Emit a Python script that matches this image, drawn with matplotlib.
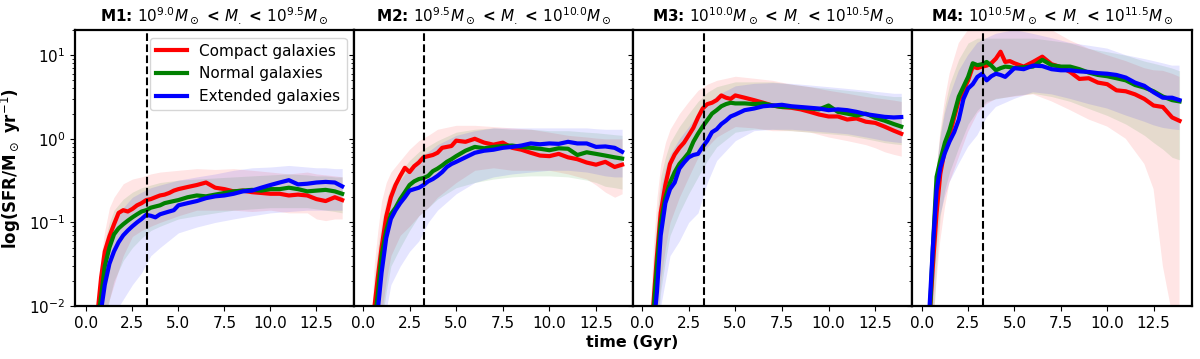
import matplotlib
matplotlib.use('Agg')
import matplotlib.pyplot as plt

# time grids (Gyr)
T = [0.4, 0.6, 0.8, 1.0, 1.25, 1.5, 1.75, 2.0, 2.25, 2.5, 2.75, 3.0, 3.25, 3.5, 3.75,
     4.0, 4.25, 4.5, 4.75, 5.0, 5.5, 6.0, 6.5, 7.0, 7.5, 8.0, 8.5, 9.0, 9.5, 10.0,
     10.5, 11.0, 11.5, 12.0, 12.5, 13.0, 13.5, 13.9]
TB = [0.4, 0.6, 0.8, 1.0, 1.25, 1.5, 2.0, 2.5, 3.0, 3.5, 4.0, 5.0, 6.0, 7.0, 8.0,
      9.0, 10.0, 11.0, 12.0, 12.5, 13.0, 13.5, 13.9]

titles = [r"M1: $10^{9.0}M_\odot$ < $M_{.}$ < $10^{9.5}M_\odot$",
          r"M2: $10^{9.5}M_\odot$ < $M_{.}$ < $10^{10.0}M_\odot$",
          r"M3: $10^{10.0}M_\odot$ < $M_{.}$ < $10^{10.5}M_\odot$",
          r"M4: $10^{10.5}M_\odot$ < $M_{.}$ < $10^{11.5}M_\odot$"]
labels = ["Compact galaxies", "Normal galaxies", "Extended galaxies"]
colors = ["red", "green", "blue"]
t_split = 3.3

# ---- M1 ----
m1_compact = [0.003, 0.008, 0.022, 0.045, 0.068, 0.095, 0.13, 0.14, 0.135, 0.145, 0.16, 0.17, 0.185, 0.19, 0.2,
              0.21, 0.215, 0.225, 0.24, 0.25, 0.265, 0.28, 0.3, 0.26, 0.25, 0.235, 0.24, 0.23, 0.225, 0.22,
              0.22, 0.21, 0.215, 0.21, 0.19, 0.18, 0.2, 0.185]
m1_normal = [0.002, 0.006, 0.013, 0.03, 0.05, 0.072, 0.085, 0.095, 0.105, 0.115, 0.125, 0.135, 0.14, 0.15, 0.155,
             0.16, 0.17, 0.175, 0.18, 0.185, 0.2, 0.21, 0.205, 0.215, 0.225, 0.235, 0.24, 0.245, 0.24, 0.25,
             0.25, 0.26, 0.25, 0.235, 0.24, 0.245, 0.235, 0.22]
m1_extended = [0.002, 0.005, 0.009, 0.018, 0.032, 0.045, 0.058, 0.07, 0.08, 0.09, 0.1, 0.11, 0.123, 0.12, 0.115,
               0.125, 0.13, 0.135, 0.14, 0.16, 0.17, 0.18, 0.195, 0.205, 0.21, 0.22, 0.235, 0.24, 0.26, 0.28,
               0.3, 0.32, 0.285, 0.29, 0.3, 0.305, 0.3, 0.27]
m1_compact_lo = [0.001, 0.002, 0.004, 0.008, 0.012, 0.018, 0.04, 0.068, 0.08, 0.09, 0.1, 0.12, 0.14, 0.14, 0.14,
                 0.135, 0.14, 0.13, 0.13, 0.11, 0.105, 0.11, 0.11]
m1_compact_hi = [0.003, 0.012, 0.04, 0.08, 0.15, 0.2, 0.29, 0.33, 0.35, 0.38, 0.4, 0.42, 0.44, 0.43, 0.44,
                 0.42, 0.4, 0.38, 0.4, 0.38, 0.37, 0.36, 0.35]
m1_normal_lo = [0.001, 0.002, 0.003, 0.006, 0.012, 0.02, 0.035, 0.05, 0.065, 0.08, 0.09, 0.11, 0.12, 0.13, 0.14,
                0.145, 0.15, 0.15, 0.15, 0.145, 0.14, 0.135, 0.13]
m1_normal_hi = [0.002, 0.01, 0.03, 0.06, 0.1, 0.14, 0.19, 0.23, 0.26, 0.28, 0.3, 0.32, 0.33, 0.34, 0.35,
                0.36, 0.37, 0.38, 0.37, 0.36, 0.36, 0.35, 0.35]
m1_extended_lo = [0.0005, 0.001, 0.002, 0.003, 0.005, 0.008, 0.012, 0.018, 0.025, 0.04, 0.05, 0.075, 0.088, 0.1, 0.11,
                  0.12, 0.13, 0.135, 0.14, 0.14, 0.14, 0.14, 0.14]
m1_extended_hi = [0.002, 0.008, 0.02, 0.04, 0.07, 0.1, 0.15, 0.2, 0.23, 0.26, 0.28, 0.32, 0.35, 0.38, 0.42,
                  0.45, 0.46, 0.48, 0.46, 0.45, 0.45, 0.44, 0.44]

# ---- M2 ----
m2_compact = [0.003, 0.009, 0.022, 0.05, 0.117, 0.2, 0.28, 0.36, 0.45, 0.4, 0.47, 0.52, 0.6, 0.62, 0.64,
              0.68, 0.78, 0.8, 0.82, 0.95, 0.92, 1.0, 0.9, 0.85, 0.9, 0.78, 0.74, 0.68, 0.63, 0.62,
              0.66, 0.6, 0.57, 0.52, 0.49, 0.53, 0.46, 0.49]
m2_normal = [0.002, 0.006, 0.014, 0.04, 0.08, 0.125, 0.15, 0.19, 0.23, 0.28, 0.31, 0.33, 0.34, 0.36, 0.41,
             0.44, 0.48, 0.53, 0.57, 0.62, 0.72, 0.8, 0.77, 0.8, 0.82, 0.83, 0.8, 0.78, 0.76, 0.73,
             0.77, 0.76, 0.64, 0.69, 0.66, 0.63, 0.6, 0.58]
m2_extended = [0.001, 0.004, 0.009, 0.025, 0.065, 0.11, 0.14, 0.17, 0.2, 0.24, 0.25, 0.26, 0.28, 0.31, 0.33,
               0.36, 0.4, 0.46, 0.5, 0.53, 0.6, 0.68, 0.72, 0.74, 0.78, 0.8, 0.83, 0.88, 0.86, 0.88,
               0.87, 0.92, 0.88, 0.88, 0.8, 0.81, 0.78, 0.7]
m2_compact_lo = [0.001, 0.002, 0.004, 0.008, 0.02, 0.04, 0.07, 0.09, 0.12, 0.15, 0.2, 0.3, 0.42, 0.45, 0.42,
                 0.42, 0.42, 0.38, 0.33, 0.28, 0.23, 0.2, 0.22]
m2_compact_hi = [0.004, 0.03, 0.08, 0.18, 0.3, 0.4, 0.55, 0.75, 0.95, 1.1, 1.3, 1.45, 1.45, 1.4, 1.35,
                 1.3, 1.2, 1.1, 1.05, 1.02, 1.0, 1.0, 1.0]
m2_normal_lo = [0.0005, 0.001, 0.003, 0.006, 0.015, 0.03, 0.05, 0.08, 0.12, 0.15, 0.19, 0.26, 0.3, 0.33, 0.35,
                0.36, 0.36, 0.35, 0.32, 0.3, 0.27, 0.26, 0.25]
m2_normal_hi = [0.003, 0.02, 0.05, 0.1, 0.18, 0.27, 0.4, 0.55, 0.7, 0.82, 0.95, 1.2, 1.3, 1.35, 1.3,
                1.3, 1.25, 1.25, 1.2, 1.18, 1.15, 1.12, 1.1]
m2_extended_lo = [0.0005, 0.001, 0.002, 0.004, 0.009, 0.018, 0.03, 0.045, 0.06, 0.1, 0.14, 0.22, 0.3, 0.35, 0.38,
                  0.4, 0.42, 0.42, 0.4, 0.38, 0.36, 0.35, 0.35]
m2_extended_hi = [0.002, 0.01, 0.03, 0.06, 0.12, 0.2, 0.32, 0.45, 0.6, 0.7, 0.85, 1.1, 1.25, 1.35, 1.35,
                  1.35, 1.35, 1.35, 1.35, 1.32, 1.3, 1.3, 1.3]

# ---- M3 ----
m3_compact = [0.002, 0.01, 0.04, 0.13, 0.28, 0.5, 0.65, 0.78, 0.9, 1.1, 1.35, 1.8, 2.3, 2.6, 2.7,
              2.9, 3.3, 3.1, 3.0, 3.3, 3.1, 2.9, 2.7, 2.5, 2.4, 2.35, 2.25, 2.1, 1.95, 1.85,
              1.85, 1.7, 1.75, 1.6, 1.55, 1.4, 1.25, 1.15]
m3_normal = [0.002, 0.008, 0.03, 0.098, 0.2, 0.3, 0.4, 0.5, 0.58, 0.68, 0.92, 1.15, 1.4, 1.67, 2.0,
             2.2, 2.45, 2.6, 2.7, 2.65, 2.65, 2.6, 2.65, 2.5, 2.4, 2.4, 2.35, 2.3, 2.25, 2.5,
             2.1, 2.0, 1.9, 2.0, 1.78, 1.65, 1.5, 1.4]
m3_extended = [0.001, 0.005, 0.015, 0.07, 0.17, 0.25, 0.3, 0.44, 0.52, 0.6, 0.64, 0.66, 0.8, 0.95, 1.2,
               1.3, 1.5, 1.65, 1.85, 1.95, 2.2, 2.3, 2.45, 2.5, 2.55, 2.45, 2.4, 2.35, 2.3, 2.2,
               2.25, 2.2, 2.1, 1.97, 1.9, 1.83, 1.8, 1.82]
m3_compact_lo = [0.001, 0.002, 0.006, 0.02, 0.05, 0.1, 0.2, 0.35, 0.6, 0.8, 1.05, 1.4, 1.35, 1.25, 1.25,
                 1.2, 1.05, 0.95, 0.85, 0.78, 0.7, 0.65, 0.62]
m3_compact_hi = [0.006, 0.05, 0.2, 0.5, 0.9, 1.3, 2.0, 2.8, 3.8, 4.5, 5.0, 5.6, 5.3, 5.0, 4.5,
                 4.2, 3.8, 3.5, 3.2, 3.1, 3.0, 2.9, 2.8]
m3_normal_lo = [0.0005, 0.001, 0.004, 0.015, 0.035, 0.07, 0.13, 0.22, 0.35, 0.55, 0.8, 1.2, 1.3, 1.3, 1.25,
                1.2, 1.15, 1.1, 1.0, 0.95, 0.9, 0.87, 0.85]
m3_normal_hi = [0.004, 0.03, 0.12, 0.35, 0.6, 0.9, 1.4, 2.0, 2.8, 3.6, 4.2, 4.8, 4.8, 4.8, 4.5,
                4.2, 4.0, 3.8, 3.6, 3.4, 3.3, 3.2, 3.2]
m3_extended_lo = [0.0005, 0.001, 0.003, 0.01, 0.02, 0.04, 0.06, 0.1, 0.13, 0.3, 0.55, 0.95, 1.25, 1.3, 1.3,
                  1.25, 1.2, 1.15, 1.05, 1.0, 0.95, 0.92, 0.9]
m3_extended_hi = [0.003, 0.02, 0.08, 0.25, 0.45, 0.65, 1.0, 1.4, 2.0, 2.6, 3.3, 4.3, 4.6, 4.7, 4.6,
                  4.4, 4.2, 4.0, 3.8, 3.7, 3.6, 3.5, 3.5]

# ---- M4 ----
m4_compact = [0.006, 0.03, 0.13, 0.38, 0.75, 1.1, 1.8, 2.9, 3.8, 5.0, 7.3, 7.0, 7.3, 7.5, 8.0,
              9.1, 11.0, 8.3, 8.5, 8.0, 7.3, 8.3, 9.6, 7.8, 7.2, 6.3, 5.2, 5.3, 4.7, 4.5,
              3.8, 3.7, 3.4, 3.0, 2.5, 2.4, 1.8, 1.64]
m4_normal = [0.005, 0.05, 0.35, 0.55, 0.9, 1.27, 2.0, 3.2, 4.2, 5.5, 8.0, 7.6, 7.8, 8.3, 7.5,
             6.6, 7.0, 7.3, 7.2, 7.0, 7.2, 7.3, 8.8, 7.6, 7.3, 7.3, 6.8, 6.2, 5.8, 5.6,
             5.3, 5.0, 4.4, 4.1, 3.7, 3.2, 2.9, 2.8]
m4_extended = [0.008, 0.05, 0.24, 0.45, 0.68, 0.93, 1.2, 1.7, 3.0, 4.0, 4.5, 5.5, 6.0, 5.0, 5.6,
               6.0, 5.8, 5.5, 6.2, 7.0, 6.8, 7.5, 7.4, 6.8, 6.6, 6.6, 6.4, 6.3, 6.1, 6.0,
               5.8, 5.4, 4.7, 4.3, 3.6, 3.1, 3.1, 2.9]
m4_compact_lo = [0.001, 0.005, 0.02, 0.06, 0.15, 0.3, 0.6, 1.2, 2.0, 2.6, 3.0, 3.2, 3.4, 2.8, 2.2,
                 1.7, 1.4, 1.0, 0.5, 0.25, 0.03, 0.008, 0.01]
m4_compact_hi = [0.01, 0.08, 0.4, 1.2, 3.0, 6.0, 14.0, 20.0, 22.0, 22.0, 22.0, 22.0, 22.0, 20.0, 15.0,
                 12.0, 10.0, 8.5, 7.0, 6.6, 6.5, 6.0, 5.5]
m4_normal_lo = [0.001, 0.005, 0.03, 0.12, 0.25, 0.4, 0.8, 1.5, 2.2, 2.8, 3.0, 3.3, 3.5, 3.2, 2.8,
                2.3, 1.9, 1.5, 1.1, 0.9, 0.75, 0.6, 0.56]
m4_normal_hi = [0.01, 0.1, 0.5, 1.2, 2.5, 4.5, 9.0, 14.0, 16.0, 16.0, 16.0, 16.0, 16.0, 15.0, 14.0,
                12.0, 11.0, 10.0, 8.5, 8.0, 7.5, 7.0, 6.5]
m4_extended_lo = [0.001, 0.008, 0.05, 0.12, 0.2, 0.3, 0.5, 0.8, 1.1, 1.8, 2.4, 3.0, 3.6, 3.4, 3.0,
                  2.6, 2.3, 1.9, 1.6, 1.45, 1.35, 1.3, 1.27]
m4_extended_hi = [0.01, 0.08, 0.4, 1.0, 2.0, 3.2, 6.5, 10.0, 14.0, 16.0, 18.0, 20.0, 18.0, 16.0, 14.0,
                  13.0, 12.0, 10.0, 9.0, 8.5, 8.0, 7.5, 7.5]

panels = [
    ([m1_compact, m1_normal, m1_extended],
     [(m1_compact_lo, m1_compact_hi), (m1_normal_lo, m1_normal_hi), (m1_extended_lo, m1_extended_hi)]),
    ([m2_compact, m2_normal, m2_extended],
     [(m2_compact_lo, m2_compact_hi), (m2_normal_lo, m2_normal_hi), (m2_extended_lo, m2_extended_hi)]),
    ([m3_compact, m3_normal, m3_extended],
     [(m3_compact_lo, m3_compact_hi), (m3_normal_lo, m3_normal_hi), (m3_extended_lo, m3_extended_hi)]),
    ([m4_compact, m4_normal, m4_extended],
     [(m4_compact_lo, m4_compact_hi), (m4_normal_lo, m4_normal_hi), (m4_extended_lo, m4_extended_hi)]),
]
xlims = [(-0.62, 14.55), (-0.47, 14.5), (-0.47, 14.5), (-0.5, 14.55)]

fig, axes = plt.subplots(1, 4, figsize=(12, 3.59), dpi=100, sharey=True)
fig.subplots_adjust(left=0.0625, right=0.993, top=0.9164, bottom=0.1476, wspace=0)

for i, ax in enumerate(axes):
    lines, bands = panels[i]
    for (lo, hi), c in zip(bands, colors):
        ax.fill_between(TB, lo, hi, color=c, alpha=0.1, lw=0)
    for y, c, lab in zip(lines, colors, labels):
        ax.plot(T, y, color=c, lw=3, label=lab)
    ax.axvline(t_split, color='black', ls='--', lw=1.5)
    ax.set_yscale('log')
    ax.set_ylim(0.01, 20)
    ax.set_xlim(*xlims[i])
    ax.set_xticks([0.0, 2.5, 5.0, 7.5, 10.0, 12.5])
    ax.set_title(titles[i], fontsize=11, fontweight='bold')
    ax.tick_params(labelsize=11)
    for s in ax.spines.values():
        s.set_linewidth(1.6)

axes[0].set_ylabel(r"log(SFR/M$_\odot$ yr$^{-1}$)", fontsize=12, fontweight='bold')
axes[0].legend(loc='upper right', fontsize=11)
fig.text(0.527, 0.025, "time (Gyr)", ha='center', va='bottom', fontsize=11.5, fontweight='bold')

fig.savefig('out.png', dpi=100)
